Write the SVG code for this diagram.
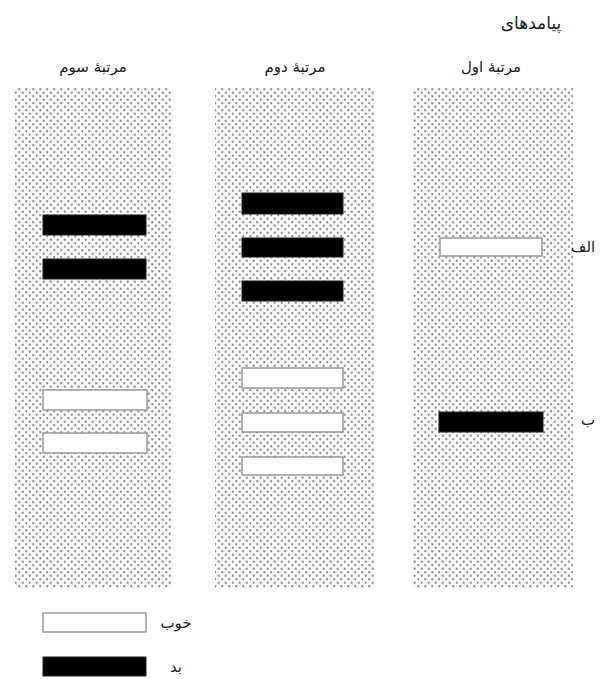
<svg xmlns="http://www.w3.org/2000/svg" width="605" height="679" viewBox="0 0 605 679">
<style>
.t{font-family:"DejaVu Sans","Noto Sans",sans-serif;font-size:15px;fill:#1a1a1a;text-anchor:middle;direction:rtl}
.good{fill:#fff;stroke:#999;stroke-width:1.5}
.bad{fill:#000;stroke:#222;stroke-width:1}
.col{fill:url(#dots)}
</style>
<defs>
<pattern id="dots" width="7" height="7" patternUnits="userSpaceOnUse">
<rect width="7" height="7" fill="#fafafa"/>
<circle cx="1.75" cy="1.75" r="1.15" fill="#8f8f8f"/>
<circle cx="5.25" cy="5.25" r="1.15" fill="#8f8f8f"/>
</pattern>
</defs>
<rect width="605" height="679" fill="#fff"/>
<g id="titles">
<text class="t" x="531" y="29" style="font-size:17px">پیامدهای</text>
<text class="t" x="491" y="72">مرتبهٔ اول</text>
<text class="t" x="295" y="72">مرتبهٔ دوم</text>
<text class="t" x="93" y="72">مرتبهٔ سوم</text>
</g>
<g id="col3">
<rect class="col" x="15" y="88" width="157" height="500"/>
<rect class="bad" x="43" y="215" width="103" height="20"/>
<rect class="bad" x="43" y="259" width="103" height="20"/>
<rect class="good" x="43" y="390" width="104" height="20"/>
<rect class="good" x="43" y="433" width="104" height="20"/>
</g>
<g id="col2">
<rect class="col" x="215" y="88" width="159" height="500"/>
<rect class="bad" x="242" y="193" width="101" height="21"/>
<rect class="bad" x="242" y="238" width="101" height="19"/>
<rect class="bad" x="242" y="281" width="101" height="20"/>
<rect class="good" x="242" y="368" width="101" height="20"/>
<rect class="good" x="242" y="413" width="101" height="19"/>
<rect class="good" x="242" y="457" width="101" height="18"/>
</g>
<g id="col1">
<rect class="col" x="413" y="88" width="160" height="500"/>
<rect class="good" x="440" y="238" width="102" height="18"/>
<rect class="bad" x="439" y="412" width="104" height="20"/>
</g>
<g id="rowlabels">
<text class="t" x="583" y="252">الف</text>
<text class="t" x="588" y="425">ب</text>
</g>
<g id="legend">
<rect class="good" x="43" y="613" width="103" height="19"/>
<text class="t" x="176" y="628">خوب</text>
<rect class="bad" x="43" y="657" width="103" height="19"/>
<text class="t" x="176" y="672">بد</text>
</g>
<g id="connectors"></g>
</svg>
